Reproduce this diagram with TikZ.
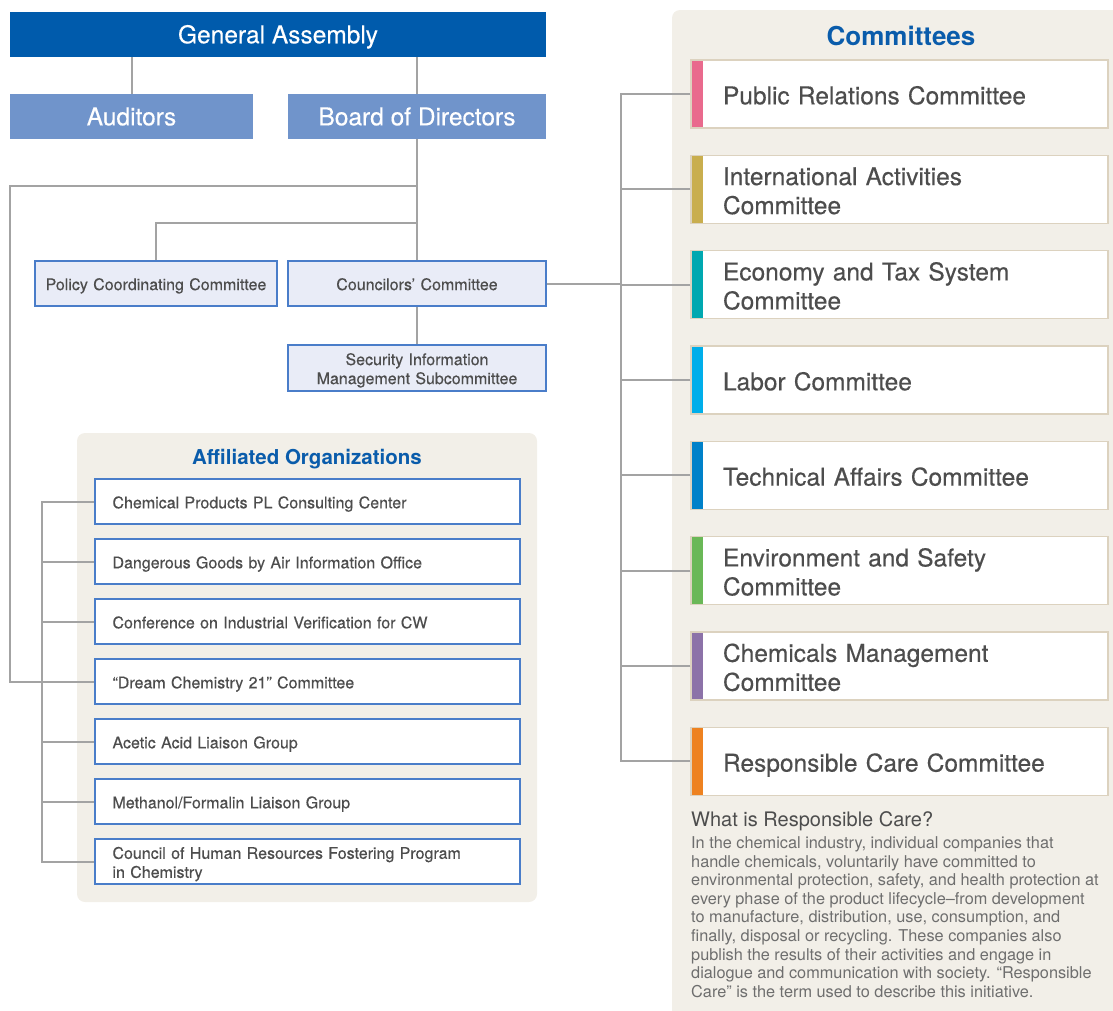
\documentclass[tikz,border=0pt]{standalone}
\usepackage{fontspec}
\setmainfont{TeX Gyre Heros}
\newfontfamily\boxfont{TeX Gyre Heros}[FakeBold=0.3]

\definecolor{gablue}{HTML}{005BAC}
\definecolor{midblue}{HTML}{7094CB}
\definecolor{paleblue}{HTML}{E9ECF7}
\definecolor{edgeblue}{HTML}{4A7DC9}
\definecolor{titleblue}{HTML}{0A5CAB}
\definecolor{panelbg}{HTML}{F2EFE8}
\definecolor{beige}{HTML}{DCD2BF}
\definecolor{linegray}{HTML}{A3A3A3}
\definecolor{txtgray}{HTML}{4D4D4D}
\definecolor{paragray}{HTML}{6E6E6E}
\definecolor{barpink}{HTML}{E96A8D}
\definecolor{bargold}{HTML}{C9AE4E}
\definecolor{barteal}{HTML}{00A8B0}
\definecolor{barsky}{HTML}{00AEEA}
\definecolor{barblue}{HTML}{0081C9}
\definecolor{bargreen}{HTML}{6AB857}
\definecolor{barpurple}{HTML}{8C72A8}
\definecolor{barorange}{HTML}{EE8220}

\begin{document}
\begin{tikzpicture}[x=1pt,y=-1pt,
    link/.style={draw=linegray, line width=2pt},
    topbox/.style={fill=gablue, text=white, minimum height=45pt, inner sep=0pt,
        font=\boxfont\fontsize{24.5}{28}\selectfont,
        execute at begin node={\rule[-5.3pt]{0pt}{28.2pt}}},
    midbox/.style={topbox, fill=midblue},
    palebox/.style={fill=paleblue, draw=edgeblue, line width=1.5pt, minimum height=45pt,
        text width=#1, inner xsep=6pt, inner ysep=0pt, align=center, text=txtgray,
        font=\boxfont\fontsize{16}{19}\selectfont,
        execute at begin node={\rule[-3.6pt]{0pt}{20.4pt}},
        execute at end node={\rule[-3.6pt]{0pt}{0pt}}},
    abox/.style={draw=edgeblue, line width=1.5pt, fill=white, minimum height=45pt,
        text width=390pt, inner xsep=17.5pt, inner ysep=0pt, align=left, text=txtgray,
        font=\boxfont\fontsize{16}{19}\selectfont,
        execute at begin node={\rule[-3.6pt]{0pt}{20.8pt}},
        execute at end node={\rule[-3.6pt]{0pt}{0pt}}},
    cbox/.style={draw=beige, line width=1.2pt, fill=white, minimum height=68pt,
        text width=353pt, inner xsep=32pt, inner ysep=0pt, align=left, text=txtgray,
        font=\boxfont\fontsize{24.5}{29}\selectfont,
        execute at begin node={\rule[-5.5pt]{0pt}{31.6pt}},
        execute at end node={\rule[-5.5pt]{0pt}{0pt}},
        path picture={\fill[#1] (path picture bounding box.north west) rectangle
            ([xshift=12pt]path picture bounding box.south west);}},
    paneltitle/.style={text=titleblue, inner sep=0pt}
]
\useasboundingbox (0,0) rectangle (1113,1010);
\clip (0,0) rectangle (1113,1010);

% panels
\fill[panelbg, rounded corners=8pt] (77,433) rectangle (537,902);
\fill[panelbg, rounded corners=8pt] (672,10) rectangle (1140,1040);

% top of the chart
\node[topbox, minimum width=536pt] (ga) at (278,34.5) {General Assembly};
\node[midbox, minimum width=243pt] (aud) at (131.5,116.5) {Auditors};
\node[midbox, minimum width=258pt] (bod) at (417,116.5) {Board of Directors};

\node[palebox=230pt] (pol) at (156,283.5) {Policy Coordinating Committee};
\node[palebox=246pt] (coun) at (417,283.5) {Councilors’ Committee};
\node[palebox=246pt, minimum height=46pt] (sec) at (417,368)
    {Security Information\\Management Subcommittee};

% affiliated organizations
\node[paneltitle, font=\bfseries\fontsize{20.5}{24}\selectfont] (afftitle) at (307,459) {Affiliated Organizations};
\node[abox] (aff1) at (307.5,501.5) {Chemical Products PL Consulting Center};
\node[abox] (aff2) at (307.5,561.5) {Dangerous Goods by Air Information Office};
\node[abox] (aff3) at (307.5,621.5) {Conference on Industrial Verification for CW};
\node[abox] (aff4) at (307.5,681.5) {“Dream Chemistry 21” Committee};
\node[abox] (aff5) at (307.5,741.5) {Acetic Acid Liaison Group};
\node[abox] (aff6) at (307.5,801.5) {Methanol/Formalin Liaison Group};
\node[abox] (aff7) at (307.5,861.5) {Council of Human Resources Fostering Program\\in Chemistry};

% committees
\node[paneltitle, font=\bfseries\fontsize{26}{30}\selectfont] (comtitle) at (901,36) {Committees};
\node[cbox=barpink] (com1) at (899.5,94) {Public Relations Committee};
\node[cbox=bargold] (com2) at (899.5,189.3) {International Activities\\Committee};
\node[cbox=barteal] (com3) at (899.5,284.6) {Economy and Tax System\\Committee};
\node[cbox=barsky] (com4) at (899.5,380) {Labor Committee};
\node[cbox=barblue] (com5) at (899.5,475.3) {Technical Affairs Committee};
\node[cbox=bargreen] (com6) at (899.5,570.6) {Environment and Safety\\Committee};
\node[cbox=barpurple] (com7) at (899.5,666) {Chemicals Management\\Committee};
\node[cbox=barorange] (com8) at (899.5,761.3) {Responsible Care Committee};

\node[anchor=west, inner sep=0pt, text=txtgray, font=\fontsize{20}{24}\selectfont] (rcq) at (691,821)
    {What is Responsible Care?};
\node[anchor=north west, inner sep=0pt, align=left, text=paragray,
    font=\fontsize{16.3}{18.6}\selectfont] (rctext) at (691,836.5)
    {In the chemical industry, individual companies that\\
     handle chemicals, voluntarily have committed to\\
     environmental protection, safety, and health protection at\\
     every phase of the product lifecycle–from development\\
     to manufacture, distribution, use, consumption, and\\
     finally, disposal or recycling. These companies also\\
     publish the results of their activities and engage in\\
     dialogue and communication with society. “Responsible\\
     Care” is the term used to describe this initiative.};

% connectors
\coordinate (jbod) at (417,186);
\coordinate (jpol) at (417,223);
\coordinate (leftbus) at (10,186);
\coordinate (abus) at (42,0);
\coordinate (cbus) at (621,0);

\draw[link] (aud.north) -- (aud.north |- ga.south);
\draw[link] (bod.north) -- (bod.north |- ga.south);
\draw[link] (bod.south) -- (coun.north);
\draw[link] (jbod) -- (leftbus) |- (aff4.west);
\draw[link] (jpol) -| (pol.north);
\draw[link] (coun.south) -- (sec.north);

\draw[link] (aff1.west) -- (aff1.west -| abus) -- (aff7.west -| abus) -- (aff7.west);
\draw[link] (aff2.west) -- (aff2.west -| abus);
\draw[link] (aff3.west) -- (aff3.west -| abus);
\draw[link] (aff4.west) -- (aff4.west -| abus);
\draw[link] (aff5.west) -- (aff5.west -| abus);
\draw[link] (aff6.west) -- (aff6.west -| abus);

\draw[link] (com1.west) -- (com1.west -| cbus) -- (com8.west -| cbus) -- (com8.west);
\draw[link] (com2.west) -- (com2.west -| cbus);
\draw[link] (com3.west) -- (com3.west -| cbus);
\draw[link] (com4.west) -- (com4.west -| cbus);
\draw[link] (com5.west) -- (com5.west -| cbus);
\draw[link] (com6.west) -- (com6.west -| cbus);
\draw[link] (com7.west) -- (com7.west -| cbus);
\draw[link] (coun.east) -- (coun.east -| cbus);
\end{tikzpicture}
\end{document}
